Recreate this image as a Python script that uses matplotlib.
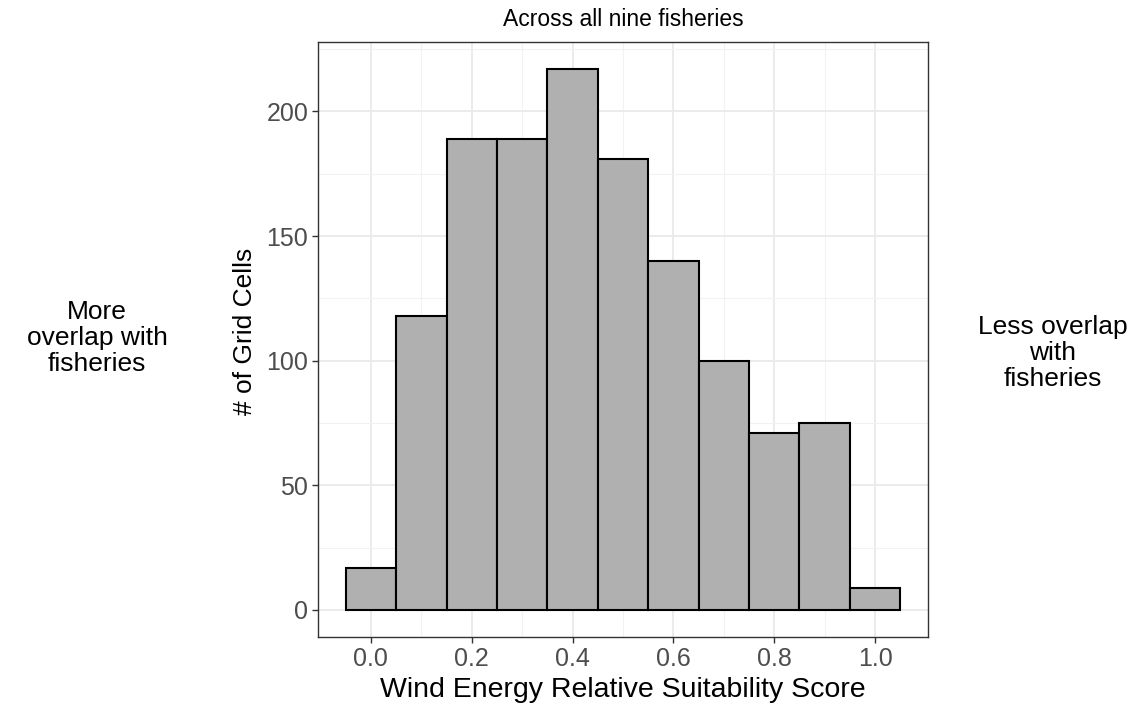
import matplotlib
matplotlib.use("Agg")
import matplotlib.pyplot as plt
import numpy as np

plt.rcParams['font.family'] = ['Liberation Sans', 'DejaVu Sans']

# Histogram bins (centres) and grid-cell counts
bin_centers = [0.0, 0.1, 0.2, 0.3, 0.4, 0.5, 0.6, 0.7, 0.8, 0.9, 1.0]
counts = [17, 118, 189, 189, 217, 181, 140, 100, 71, 75, 9]
bin_width = 0.1

x_ticks = [0.0, 0.2, 0.4, 0.6, 0.8, 1.0]
x_tick_labels = ["0.0", "0.2", "0.4", "0.6", "0.8", "1.0"]
y_ticks = [0, 50, 100, 150, 200]

W, H = 1137, 705
L, R, T, B = 318, 928, 42, 637
fig = plt.figure(figsize=(W / 100, H / 100), dpi=100)
ax = fig.add_axes([L / W, 1 - B / H, (R - L) / W, (B - T) / H])

ax.bar(bin_centers, counts, width=bin_width, color="#B0B0B0",
       edgecolor="black", linewidth=1.5, zorder=3)

xmin, xmax = -0.05, 1.05
xpad = 0.05 * (xmax - xmin)
ax.set_xlim(xmin - xpad, xmax + xpad)
ymax = max(counts)
ax.set_ylim(-0.05 * ymax, ymax * 1.05)

ax.set_xticks(x_ticks)
ax.set_xticklabels(x_tick_labels)
ax.set_yticks(y_ticks)
ax.set_xticks(np.arange(0.1, 1.0, 0.2), minor=True)
ax.set_yticks([25, 75, 125, 175, 225], minor=True)

ax.grid(which="major", color="#EBEBEB", linewidth=1.4, zorder=0)
ax.grid(which="minor", color="#F2F2F2", linewidth=0.8, zorder=0)
ax.set_axisbelow(True)
ax.tick_params(which="minor", length=0)
ax.tick_params(which="major", length=4, width=1, color="#333333",
               labelsize=18, labelcolor="#4D4D4D", pad=3)

for s in ax.spines.values():
    s.set_color("#333333")
    s.set_linewidth(1.0)

ax.set_xlabel("Wind Energy Relative Suitability Score", fontsize=20.5, va="center")
ax.xaxis.set_label_coords(0.5, (B - 690) / (B - T))
ax.set_ylabel("# of Grid Cells", fontsize=19, va="center")
ax.yaxis.set_label_coords((245 - L) / (R - L), (B - 331) / (B - T))

fig.text((L + R) / 2 / W, 1 - 20 / H, "Across all nine fisheries",
         ha="center", va="center", fontsize=16.5)

fig.text(97 / W, 1 - 338 / H, "More\noverlap with\nfisheries",
         ha="center", va="center", fontsize=19, linespacing=1.12)
fig.text(1053 / W, 1 - 353 / H, "Less overlap\nwith\nfisheries",
         ha="center", va="center", fontsize=19, linespacing=1.12)

fig.savefig("out.png", dpi=100)
